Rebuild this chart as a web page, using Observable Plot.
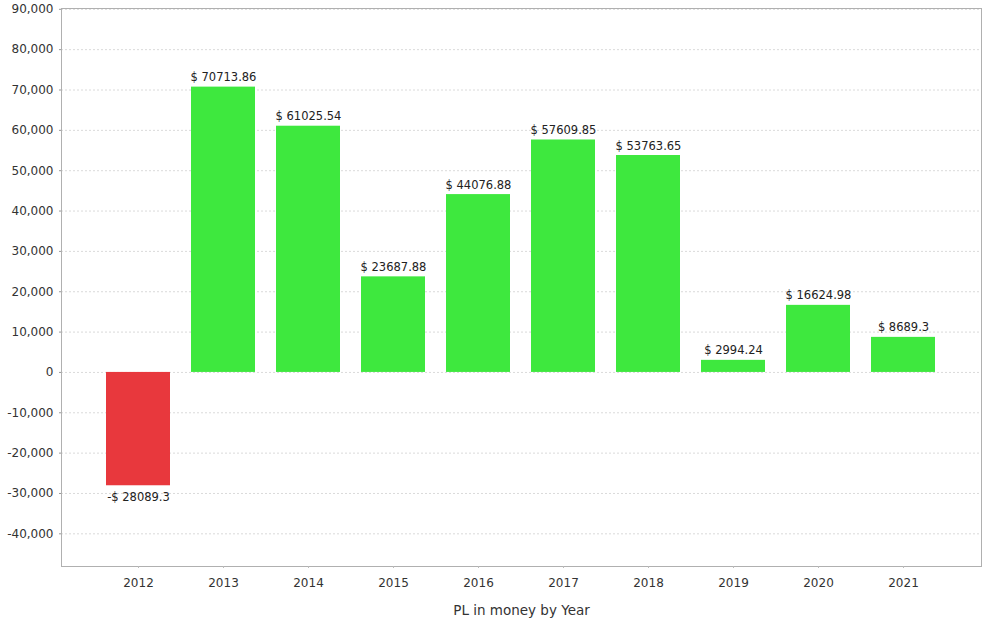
<!DOCTYPE html>
<html>
<head>
<meta charset="utf-8">
<script src="https://cdn.jsdelivr.net/npm/d3@7"></script>
<script src="https://cdn.jsdelivr.net/npm/@observablehq/plot@0.6"></script>
<style>
  html, body { margin: 0; padding: 0; background: #fff; }
</style>
</head>
<body>
<div id="chart"></div>
<script>
const years = ["2012", "2013", "2014", "2015", "2016", "2017", "2018", "2019", "2020", "2021"];
const values = [-28089.3, 70713.86, 61025.54, 23687.88, 44076.88, 57609.85, 53763.65, 2994.24, 16624.98, 8689.3];
const yTicks = [-40000, -30000, -20000, -10000, 0, 10000, 20000, 30000, 40000, 50000, 60000, 70000, 80000, 90000];
const title = "PL in money by Year";

const data = years.map((year, i) => ({
  year,
  value: values[i],
  label: values[i] < 0 ? "-$ " + Math.abs(values[i]) : "$ " + values[i]
}));

const chart = Plot.plot({
  width: 990,
  height: 623,
  marginLeft: 61,
  marginRight: 9,
  marginTop: 8,
  marginBottom: 57,
  style: { fontFamily: "DejaVu Sans", fontSize: "12px", color: "#333", background: "#fff" },
  x: { domain: years, paddingInner: 0.244, paddingOuter: 0.528, label: null },
  y: { domain: [-48100, 90200], label: null },
  marks: [
    Plot.gridY(yTicks, { stroke: "#dadada", strokeOpacity: 1, strokeDasharray: "2,2" }),
    Plot.barY(data, { x: "year", y: "value", fill: d => d.value < 0 ? "#E8383D" : "#3EE83E" }),
    Plot.frame({ stroke: "#b0b0b0" }),
    Plot.axisY(yTicks, { tickSize: 2, tickPadding: 6, stroke: "#999", tickFormat: d => d.toLocaleString("en-US"), fontSize: 12, fill: "#333" }),
    Plot.axisX({ tickSize: 2, tickPadding: 10, stroke: "#bbb", fontSize: 12, fill: "#333" }),
    Plot.text(data.filter(d => d.value >= 0), { x: "year", y: "value", text: "label", lineAnchor: "bottom", dy: -6, fontSize: 11.5, fill: "#222" }),
    Plot.text(data.filter(d => d.value < 0), { x: "year", y: "value", text: "label", lineAnchor: "top", dy: 7, fontSize: 11.5, fill: "#222" }),
    Plot.text([title], { frameAnchor: "bottom", dy: 48, fontSize: 13.5, fill: "#333" })
  ]
});

document.getElementById("chart").appendChild(chart);
</script>
</body>
</html>
